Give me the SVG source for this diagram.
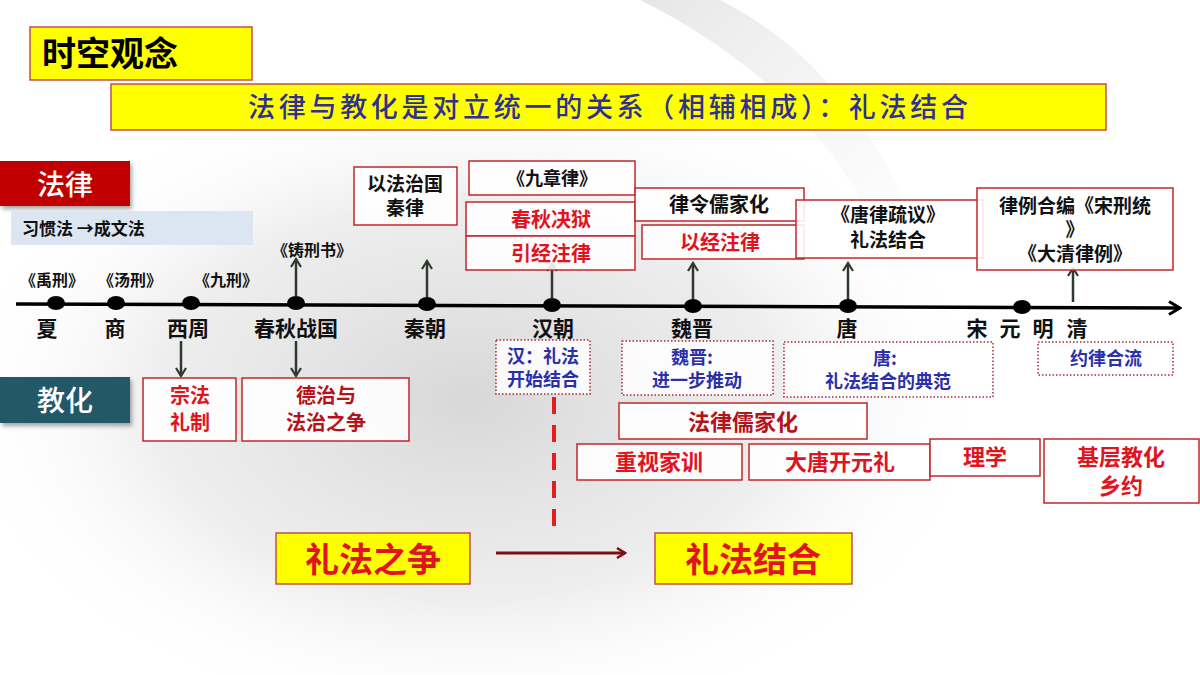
<svg xmlns="http://www.w3.org/2000/svg" width="1200" height="675" viewBox="0 0 1200 675">
<defs>
<style>
.t{font-family:"Noto Sans CJK SC","Noto Sans",sans-serif;font-weight:700;text-anchor:middle}
.box{fill:#fff;fill-opacity:0.88;stroke:#C0282D;stroke-width:1.5}
.dbox{fill:#fff;fill-opacity:0.85;stroke:#A8283A;stroke-width:1.5;stroke-dasharray:1.5 2}
.yel{fill:#FFFF00;stroke:#C0504D;stroke-width:1.5}
.blk{fill:#111}
.red{fill:#E0141E}
.dred{fill:#B5121B}
.blu{fill:#2B2FA8}
.era{font-size:21px;fill:#111}
.bk{font-size:16px;fill:#111}
.arr{stroke:#2E3A2E;stroke-width:2.5;fill:none;marker-end:url(#ah)}
</style>
<marker id="ah" viewBox="0 0 12 12" refX="10" refY="6" markerWidth="12" markerHeight="12" markerUnits="userSpaceOnUse" orient="auto">
<path d="M2,1 L10,6 L2,11" fill="none" stroke="#2E3A2E" stroke-width="2.2"/>
</marker>
<marker id="ahT" viewBox="0 0 16 16" refX="14" refY="8" markerWidth="16" markerHeight="16" markerUnits="userSpaceOnUse" orient="auto">
<path d="M3,1.5 L14,8 L3,14.5" fill="none" stroke="#000" stroke-width="3"/>
</marker>
<marker id="ahR" viewBox="0 0 12 12" refX="10" refY="6" markerWidth="12" markerHeight="12" markerUnits="userSpaceOnUse" orient="auto">
<path d="M2,1 L10,6 L2,11" fill="none" stroke="#7B1113" stroke-width="2.5"/>
</marker>
<radialGradient id="bg" cx="0.5" cy="0.5" r="0.5">
<stop offset="0" stop-color="#bdbdbd" stop-opacity="0.6"/>
<stop offset="0.6" stop-color="#d4d4d4" stop-opacity="0.4"/>
<stop offset="1" stop-color="#ffffff" stop-opacity="0"/>
</radialGradient>
<linearGradient id="sw" x1="0" y1="0" x2="1" y2="1">
<stop offset="0" stop-color="#e6e6e6"/>
<stop offset="1" stop-color="#f6f6f6" stop-opacity="0"/>
</linearGradient>
<filter id="sh" x="-10%" y="-10%" width="130%" height="140%">
<feDropShadow dx="2" dy="3" stdDeviation="2" flood-color="#000" flood-opacity="0.35"/>
</filter>
</defs>

<g id="background">
<rect width="1200" height="675" fill="#fff"/>
<ellipse cx="470" cy="400" rx="520" ry="330" fill="url(#bg)"/>
<path d="M640,0 C760,60 860,150 900,300 L940,300 C900,150 820,50 720,0 Z" fill="url(#sw)"/>
</g>

<g id="title">
<rect x="30" y="27" width="222" height="53" class="yel"/>
<text x="42" y="66" style="font-family:'Noto Sans CJK SC',sans-serif;font-weight:700;font-size:34px" fill="#000">时空观念</text>
</g>

<g id="banner">
<rect x="111" y="84" width="995" height="46" class="yel"/>
<text x="608" y="117" class="t" style="font-size:27px;font-weight:500" fill="#2E3192" textLength="720" lengthAdjust="spacing">法律与教化是对立统一的关系（相辅相成）：礼法结合</text>
</g>

<g id="falv-header">
<rect x="0" y="161" width="130" height="45" fill="#C00000" filter="url(#sh)"/>
<text x="65" y="195" class="t" style="font-size:28px;font-weight:500" fill="#fff">法律</text>
</g>

<g id="xiguanfa">
<rect x="11" y="211" width="242" height="34" fill="#DCE6F2"/>
<text x="22" y="235" class="t blk" style="font-size:17px;text-anchor:start">习惯法 →成文法</text>
</g>

<g id="jiaohua-header">
<rect x="0" y="377" width="130" height="46" fill="#215968" filter="url(#sh)"/>
<text x="65" y="411" class="t" style="font-size:28px;font-weight:500" fill="#fff">教化</text>
</g>

<g id="connectors">
<line x1="16" y1="304" x2="1180" y2="308" stroke="#000" stroke-width="3.5" marker-end="url(#ahT)"/>
<line x1="296" y1="296" x2="296" y2="259" class="arr"/>
<line x1="427" y1="297" x2="427" y2="261" class="arr"/>
<line x1="552" y1="298" x2="552" y2="263" class="arr"/>
<line x1="693" y1="299" x2="693" y2="263" class="arr"/>
<line x1="848" y1="300" x2="848" y2="263" class="arr"/>
<line x1="1073" y1="302" x2="1073" y2="268" class="arr"/>
<line x1="181" y1="341" x2="181" y2="376" class="arr"/>
<line x1="296" y1="341" x2="296" y2="376" class="arr"/>
<line x1="554" y1="397" x2="554" y2="527" stroke="#E02020" stroke-width="4" stroke-dasharray="17 11"/>
<line x1="496" y1="553" x2="625" y2="553" stroke="#7B1113" stroke-width="3" marker-end="url(#ahR)"/>
</g>

<g id="dots" fill="#000">
<ellipse cx="56" cy="303" rx="9" ry="7"/>
<ellipse cx="116" cy="303" rx="9" ry="7"/>
<ellipse cx="191" cy="303" rx="9" ry="7"/>
<ellipse cx="296" cy="303" rx="9" ry="7"/>
<ellipse cx="427" cy="304" rx="9" ry="7"/>
<ellipse cx="552" cy="305" rx="9" ry="7"/>
<ellipse cx="693" cy="306" rx="9" ry="7"/>
<ellipse cx="848" cy="306" rx="9" ry="7"/>
<ellipse cx="1022" cy="307" rx="9" ry="7"/>
</g>

<g id="era-labels" class="t era">
<text x="47" y="336">夏</text>
<text x="115" y="336">商</text>
<text x="188" y="336">西周</text>
<text x="296" y="336">春秋战国</text>
<text x="425" y="336">秦朝</text>
<text x="553" y="336">汉朝</text>
<text x="692" y="336">魏晋</text>
<text x="847" y="336">唐</text>
<text x="977" y="336">宋</text>
<text x="1010" y="336">元</text>
<text x="1043" y="336">明</text>
<text x="1077" y="336">清</text>
</g>

<g id="law-books" class="t bk">
<text x="52" y="286">《禹刑》</text>
<text x="130" y="286">《汤刑》</text>
<text x="226" y="286">《九刑》</text>
<text x="312" y="256">《铸刑书》</text>
</g>

<g id="qin">
<rect x="354" y="167" width="103" height="58" class="box"/>
<text x="405" y="191" class="t blk" style="font-size:19px">以法治国</text>
<text x="405" y="215" class="t blk" style="font-size:19px">秦律</text>
</g>

<g id="jiuzhanglv">
<rect x="469" y="161" width="166" height="34" class="box"/>
<text x="552" y="185" class="t blk" style="font-size:18px">《九章律》</text>
</g>

<g id="chunqiujueyu">
<rect x="466" y="202" width="169" height="34" class="box"/>
<text x="551" y="227" class="t red" style="font-size:20px">春秋决狱</text>
</g>

<g id="yinjingzhulv">
<rect x="466" y="236" width="169" height="34" class="box"/>
<text x="551" y="261" class="t red" style="font-size:20px">引经注律</text>
</g>

<g id="lvlingrujia">
<rect x="635" y="188" width="169" height="33" class="box"/>
<text x="719" y="212" class="t blk" style="font-size:20px">律令儒家化</text>
</g>

<g id="yijingzhulv">
<rect x="642" y="225" width="162" height="34" class="box"/>
<text x="720" y="250" class="t red" style="font-size:20px">以经注律</text>
</g>

<g id="tanglvshuyi">
<rect x="796" y="200" width="187" height="58" class="box"/>
<text x="888" y="222" class="t blk" style="font-size:19px">《唐律疏议》</text>
<text x="888" y="247" class="t blk" style="font-size:19px">礼法结合</text>
</g>

<g id="songxingtong">
<rect x="977" y="188" width="196" height="82" class="box"/>
<text x="1075" y="213" class="t blk" style="font-size:19px">律例合编《宋刑统</text>
<text x="1075" y="237" class="t blk" style="font-size:19px">》</text>
<text x="1075" y="261" class="t blk" style="font-size:19px">《大清律例》</text>
</g>

<g id="han">
<rect x="496" y="340" width="94" height="54" class="dbox"/>
<text x="543" y="363" class="t blu" style="font-size:18px">汉：礼法</text>
<text x="543" y="386" class="t blu" style="font-size:18px">开始结合</text>
</g>

<g id="weijin">
<rect x="622" y="341" width="151" height="54" class="dbox"/>
<text x="692" y="364" class="t blu" style="font-size:18px">魏晋:</text>
<text x="697" y="387" class="t blu" style="font-size:18px">进一步推动</text>
</g>

<g id="tang">
<rect x="784" y="342" width="209" height="55" class="dbox"/>
<text x="885" y="365" class="t blu" style="font-size:18px">唐:</text>
<text x="888" y="388" class="t blu" style="font-size:18px">礼法结合的典范</text>
</g>

<g id="yuelvheliu">
<rect x="1038" y="342" width="135" height="33" class="dbox"/>
<text x="1106" y="365" class="t blu" style="font-size:18px">约律合流</text>
</g>

<g id="zongfalizhi">
<rect x="143" y="378" width="93" height="63" class="box"/>
<text x="190" y="403" class="t red" style="font-size:20px">宗法</text>
<text x="190" y="430" class="t red" style="font-size:20px">礼制</text>
</g>

<g id="dezhi">
<rect x="242" y="378" width="167" height="63" class="box"/>
<text x="326" y="403" class="t dred" style="font-size:20px">德治与</text>
<text x="326" y="430" class="t dred" style="font-size:20px">法治之争</text>
</g>

<g id="falvrujiahua">
<rect x="619" y="403" width="248" height="36" class="box"/>
<text x="743" y="430" class="t dred" style="font-size:22px">法律儒家化</text>
</g>

<g id="zhongshijiaxun">
<rect x="577" y="444" width="165" height="36" class="box"/>
<text x="659" y="470" class="t red" style="font-size:22px">重视家训</text>
</g>

<g id="datangkaiyuanli">
<rect x="749" y="444" width="181" height="36" class="box"/>
<text x="840" y="470" class="t red" style="font-size:22px">大唐开元礼</text>
</g>

<g id="lixue">
<rect x="930" y="439" width="110" height="37" class="box"/>
<text x="985" y="465" class="t red" style="font-size:22px">理学</text>
</g>

<g id="jiceng">
<rect x="1044" y="439" width="155" height="64" class="box"/>
<text x="1121" y="465" class="t red" style="font-size:22px">基层教化</text>
<text x="1121" y="494" class="t red" style="font-size:22px">乡约</text>
</g>

<g id="lifazhizheng">
<rect x="276" y="533" width="194" height="51" class="yel"/>
<text x="373" y="572" class="t red" style="font-size:34px">礼法之争</text>
</g>

<g id="lifajiehe">
<rect x="655" y="533" width="197" height="51" class="yel"/>
<text x="753" y="572" class="t red" style="font-size:34px">礼法结合</text>
</g>
</svg>
